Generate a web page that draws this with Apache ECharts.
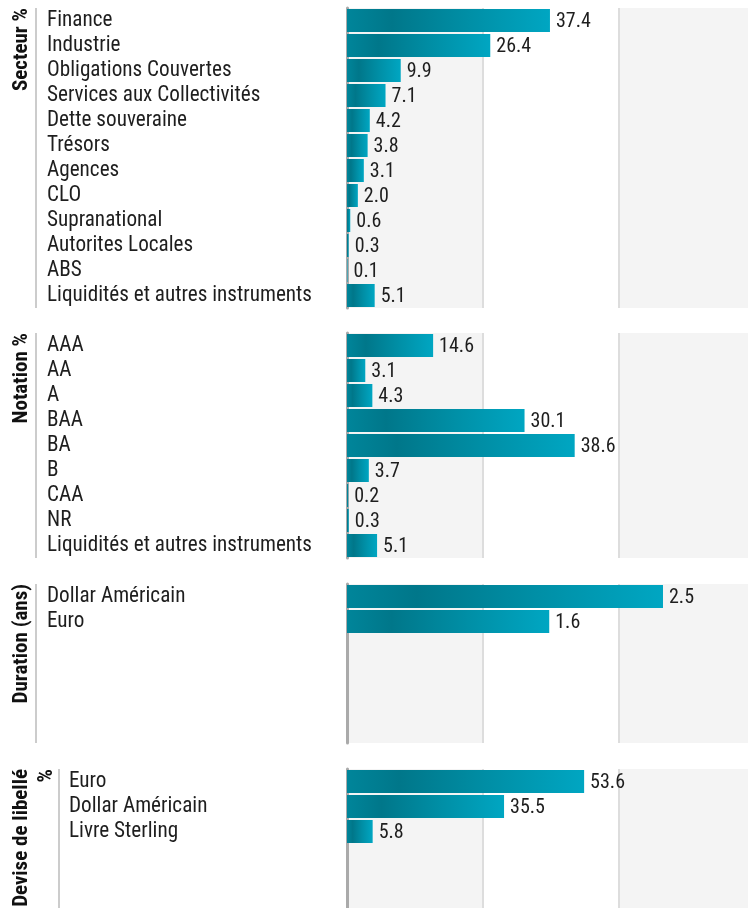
<!DOCTYPE html>
<html><head><meta charset="utf-8">
<script src="https://cdn.jsdelivr.net/npm/echarts@6/dist/echarts.min.js"></script>
<style>html,body{margin:0;padding:0;background:#fff;overflow:hidden}#main{width:748px;height:908px}</style>
</head><body><div id="main"></div>
<script>
// ---- Data ----
const secteurCategories = ['Finance','Industrie','Obligations Couvertes','Services aux Collectivités','Dette souveraine','Trésors','Agences','CLO','Supranational','Autorites Locales','ABS','Liquidités et autres instruments'];
const secteurValues = [37.4,26.4,9.9,7.1,4.2,3.8,3.1,2.0,0.6,0.3,0.1,5.1];
const notationCategories = ['AAA','AA','A','BAA','BA','B','CAA','NR','Liquidités et autres instruments'];
const notationValues = [14.6,3.1,4.3,30.1,38.6,3.7,0.2,0.3,5.1];
const durationCategories = ['Dollar Américain','Euro'];
const durationValues = [2.5,1.6];
const deviseCategories = ['Euro','Dollar Américain','Livre Sterling'];
const deviseValues = [53.6,35.5,5.8];
const panelTitles = [['Secteur %'],['Notation %'],['Duration (ans)'],['Devise de libellé','%']];

// ---- Layout ----
const FONT = '"Roboto Condensed", Roboto, sans-serif';
const PLOT_LEFT = 347, PLOT_WIDTH = 407, ROW = 25;
const panels = [
  {cats: secteurCategories, vals: secteurValues, top: 8, height: 300, max: 75, sepX: 36, labelX: 47, titleX: [22]},
  {cats: notationCategories, vals: notationValues, top: 333, height: 225, max: 69, sepX: 36, labelX: 47, titleX: [22]},
  {cats: durationCategories, vals: durationValues, top: 584, height: 159, max: 3.22, sepX: 36, labelX: 47, titleX: [22]},
  {cats: deviseCategories, vals: deviseValues, top: 769, height: 160, max: 92, sepX: 59, labelX: 69, titleX: [22, 47]}
];

const grid = [], xAxis = [], yAxis = [], series = [], graphic = [];
const barGradient = {type:'linear', x:0, y:0, x2:1, y2:0, colorStops:[
  {offset:0, color:'#00859a'}, {offset:0.22, color:'#00778a'}, {offset:0.6, color:'#008fa6'}, {offset:1, color:'#00a6c2'}]};

panels.forEach((p, i) => {
  const gBg = grid.length;
  grid.push({left: PLOT_LEFT, width: PLOT_WIDTH, top: p.top, height: p.height, outerBoundsMode:'none', containLabel:false});
  xAxis.push({gridIndex: gBg, type:'value', min:0, max:p.max, interval:p.max/3,
    axisLine:{show:false}, axisTick:{show:false}, axisLabel:{show:false},
    splitLine:{show:true, lineStyle:{color:'#dddddd', width:2}},
    splitArea:{show:true, areaStyle:{color:['#f4f4f4','#ffffff']}}});
  yAxis.push({gridIndex: gBg, type:'value', min:0, max:1,
    axisLine:{show:true, lineStyle:{color:'#aaaaaa', width:3}}, axisTick:{show:false},
    axisLabel:{show:false}, splitLine:{show:false}});

  const gBar = grid.length;
  grid.push({left: PLOT_LEFT, width: PLOT_WIDTH, top: p.top, height: p.cats.length * ROW, outerBoundsMode:'none', containLabel:false});
  xAxis.push({gridIndex: gBar, type:'value', min:0, max:p.max, show:false});
  yAxis.push({gridIndex: gBar, type:'category', data:p.cats, inverse:true,
    axisLine:{show:false}, axisTick:{show:false}, splitLine:{show:false},
    axisLabel:{interval:0, align:'left', margin: PLOT_LEFT - p.labelX, padding:[5,0,0,0],
      fontFamily:FONT, fontSize:21.2, color:'#1e1e1e'}});
  series.push({type:'bar', xAxisIndex: xAxis.length-1, yAxisIndex: yAxis.length-1,
    data:p.vals, barWidth:23, itemStyle:{color:barGradient},
    label:{show:true, position:'right', distance:6, offset:[0,1], fontFamily:FONT, fontSize:20, color:'#1e1e1e',
      formatter: d => d.value.toFixed(1)},
    silent:true, animation:false});

  graphic.push({type:'line', shape:{x1:p.sepX, y1:p.top, x2:p.sepX, y2:p.top+p.height},
    style:{stroke:'#cccccc', lineWidth:2}});
  panelTitles[i].forEach((t, k) => {
    graphic.push({type:'text', x:p.titleX[k], y:p.top, rotation:Math.PI/2,
      style:{text:t, fontFamily:FONT, fontWeight:'bold', fontSize:21, fill:'#111',
        textAlign:'right', textVerticalAlign:'middle'}});
  });
});

const chart = echarts.init(document.getElementById('main'), null, {renderer:'canvas'});
chart.setOption({animation:false, grid, xAxis, yAxis, series, graphic});
</script></body></html>
